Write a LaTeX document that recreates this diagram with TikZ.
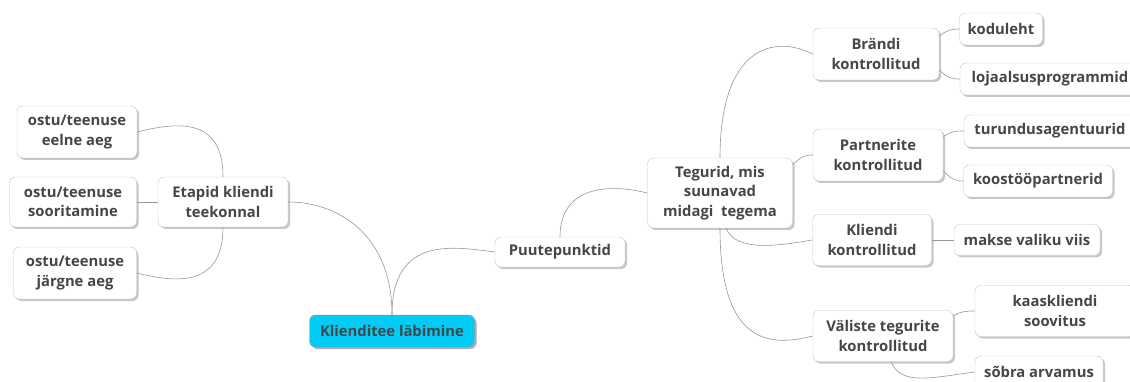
\documentclass[tikz,border=0pt]{standalone}
\usepackage{fontspec}
\setmainfont{Open Sans}
\usetikzlibrary{shadows, calc}

\definecolor{txtgray}{RGB}{70,70,74}
\definecolor{rootcyan}{RGB}{0,204,245}
\definecolor{linegray}{RGB}{150,150,150}

\tikzset{
  topic/.style={draw=gray!45, rounded corners=6pt, fill=white, align=center,
    text=txtgray, font=\bfseries\fontsize{14.8}{19.5}\selectfont, inner sep=1pt,
    drop shadow={shadow xshift=2pt, shadow yshift=-2pt, fill=gray!55, opacity=0.8}},
  link/.style={draw=linegray, line width=0.6pt}
}

\begin{document}
\begin{tikzpicture}[x=1pt, y=-1pt]
      \useasboundingbox (0, 0) rectangle (1130, 382);

      \node [topic, fill=rootcyan, draw=gray!80, minimum width=165, minimum height=32,
        drop shadow={shadow xshift=2pt, shadow yshift=-2pt, fill=gray!80}] (root) at (392, 331) {Klienditee läbimine};

      \node [topic, minimum width=130, minimum height=50] (etapid) at (223, 202) {Etapid kliendi\\teekonnal};
      \node [topic, minimum width=120, minimum height=52] (eelne) at (77, 132) {ostu/teenuse\\eelne aeg};
      \node [topic, minimum width=127, minimum height=50] (soorit) at (73, 202) {ostu/teenuse\\sooritamine};
      \node [topic, minimum width=123, minimum height=52] (jargne) at (75, 273) {ostu/teenuse\\järgne aeg};

      \node [topic, minimum width=130, minimum height=30] (puute) at (560, 252) {Puutepunktid};
      \node [topic, minimum width=145, minimum height=70] (tegurid) at (720, 193) {Tegurid, mis\\suunavad\\midagi\ \ tegema};

      \node [topic, minimum width=126, minimum height=52] (brandi) at (876, 54) {Brändi\\kontrollitud};
      \node [topic, minimum width=83, minimum height=32] (kodu) at (1001, 29) {koduleht};
      \node [topic, minimum width=180, minimum height=32] (lojaal) at (1050, 79) {lojaalsusprogrammid};

      \node [topic, minimum width=130, minimum height=52] (partner) at (878, 155) {Partnerite\\kontrollitud};
      \node [topic, minimum width=172, minimum height=32] (turundus) at (1050, 131) {turundusagentuurid};
      \node [topic, minimum width=149, minimum height=32] (koostoo) at (1038, 181) {koostööpartnerid};

      \node [topic, minimum width=119, minimum height=51] (kliendi) at (872, 240) {Kliendi\\kontrollitud};
      \node [topic, minimum width=146, minimum height=31] (makse) at (1027, 240) {makse valiku viis};

      \node [topic, minimum width=140, minimum height=51] (valiste) at (883, 336) {Väliste tegurite\\kontrollitud};
      \node [topic, minimum width=160, minimum height=51] (kaas) at (1055, 311) {kaaskliendi\\soovitus};
      \node [topic, minimum width=128, minimum height=32] (sobra) at (1039, 372) {sõbra arvamus};

      \draw [link] (root.north) .. controls +(0, -80) and +(50, 0) .. (etapid.east);
      \draw [link] (root.north) .. controls +(0, -80) and +(-40, -5) .. (puute.west);

      \draw [link] (etapid.north) .. controls +(0, -60) and +(40, -10) .. (eelne.east);
      \draw [link] (etapid.west) -- (soorit.east);
      \draw [link] (etapid.south) .. controls +(0, 60) and +(40, 10) .. (jargne.east);

      \draw [link] (puute.north) .. controls +(0, -50) and +(-40, -10) .. (tegurid.west);

      \draw [link] (tegurid.north) .. controls +(0, -110) and +(-40, -20) .. (brandi.west);
      \draw [link] ($(tegurid.north east)+(0,7)$) .. controls +(8, -8) and +(-8, 0) .. (partner.west);
      \draw [link] ($(tegurid.south)+(6,0)$) .. controls +(10, 25) and +(-30, 5) .. (kliendi.west);
      \draw [link] (tegurid.south) .. controls +(0, 120) and +(-40, 10) .. (valiste.west);

      \draw [link] ($(brandi.east)+(0,-18)$) .. controls +(8, -6) and +(-8, 0) .. (kodu.west);
      \draw [link] ($(brandi.east)+(0,16)$) .. controls +(8, 8) and +(-8, 0) .. (lojaal.west);
      \draw [link] ($(partner.east)+(0,-18)$) .. controls +(8, -6) and +(-8, 0) .. (turundus.west);
      \draw [link] ($(partner.east)+(0,16)$) .. controls +(8, 8) and +(-8, 0) .. (koostoo.west);

      \draw [link] (kliendi.east) -- (makse.west);

      \draw [link] ($(valiste.east)+(0,-20)$) .. controls +(8, -5) and +(-8, 0) .. (kaas.west);
      \draw [link] ($(valiste.south)+(8,0)$) .. controls +(10, 25) and +(-40, 5) .. (sobra.west);
    \end{tikzpicture}
\end{document}
